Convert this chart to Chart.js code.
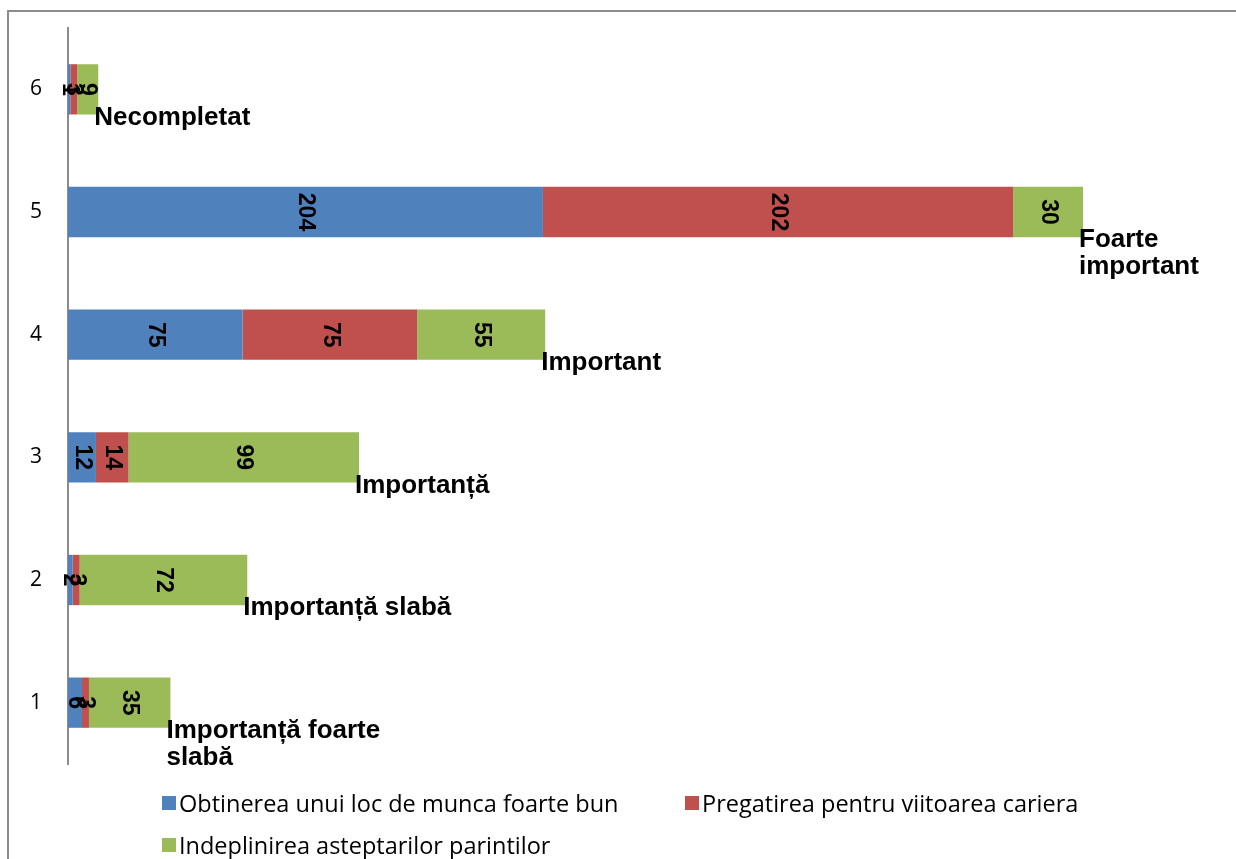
<!DOCTYPE html>
<html>
<head>
<meta charset="utf-8">
<script src="https://cdn.jsdelivr.net/npm/chart.js@4.4.1/dist/chart.umd.min.js"></script>
<style>
    html, body { margin: 0; padding: 0; background: #fff; overflow: hidden; }
    #wrap { position: relative; width: 1236px; height: 859px; }
    #frame {
        position: absolute; left: 7px; top: 10px; width: 1400px; height: 1000px;
        border-left: 2px solid #8c8c8c; border-top: 2px solid #8c8c8c;
        pointer-events: none;
    }
    #legend {
        position: absolute; left: 162px; top: 782px;
        display: grid; grid-template-columns: 523px auto; grid-auto-rows: 42px;
        font-family: 'Open Sans', sans-serif; font-size: 23.5px; color: #000;
    }
    .item { display: flex; align-items: center; white-space: nowrap; }
    .box { width: 14px; height: 14px; margin-right: 3px; flex: none; }
</style>
</head>
<body>
<div id="wrap">
    <canvas id="chart" width="1236" height="859"></canvas>
    <div id="frame"></div>
    <div id="legend"></div>
</div>
<script>
const categories = ['1', '2', '3', '4', '5', '6'];
const categoryLabels = [
    ['Importanță foarte', 'slabă'],
    ['Importanță slabă'],
    ['Importanță'],
    ['Important'],
    ['Foarte', 'important'],
    ['Necompletat']
];
const seriesNames = [
    'Obtinerea unui loc de munca foarte bun',
    'Pregatirea pentru viitoarea cariera',
    'Indeplinirea asteptarilor parintilor'
];
const jobValues = [6, 2, 12, 75, 204, 1];
const careerValues = [3, 3, 14, 75, 202, 3];
const parentsValues = [35, 72, 99, 55, 30, 9];
const seriesColors = ['#4F81BD', '#C0504D', '#9BBB59'];

// value labels inside each segment, rotated clockwise
const valueLabels = {
    id: 'valueLabels',
    afterDatasetsDraw(chart) {
        const ctx = chart.ctx;
        ctx.save();
        ctx.font = 'bold 23px "Liberation Sans", Arial, sans-serif';
        ctx.fillStyle = '#000';
        ctx.textAlign = 'center';
        ctx.textBaseline = 'middle';
        chart.data.datasets.forEach((ds, di) => {
            chart.getDatasetMeta(di).data.forEach((bar, i) => {
                const c = bar.getCenterPoint();
                ctx.save();
                ctx.translate(c.x, c.y);
                ctx.rotate(Math.PI / 2);
                ctx.fillText(String(ds.data[i]), 0, 0);
                ctx.restore();
            });
        });
        ctx.restore();
    }
};

// category names next to the end of each stacked bar
const categoryNames = {
    id: 'categoryNames',
    afterDatasetsDraw(chart) {
        const ctx = chart.ctx;
        const last = chart.getDatasetMeta(chart.data.datasets.length - 1);
        ctx.save();
        ctx.font = 'bold 26px "Liberation Sans", Arial, sans-serif';
        ctx.fillStyle = '#000';
        ctx.textAlign = 'left';
        ctx.textBaseline = 'middle';
        last.data.forEach((bar, i) => {
            const bottom = bar.y + bar.height / 2;
            categoryLabels[i].forEach((line, li) => {
                ctx.fillText(line, bar.x - 4, bottom + 3 + li * 27);
            });
        });
        ctx.restore();
    }
};

const chart = new Chart(document.getElementById('chart').getContext('2d'), {
    type: 'bar',
    data: {
        labels: categories,
        datasets: [
            { label: seriesNames[0], data: jobValues, backgroundColor: seriesColors[0] },
            { label: seriesNames[1], data: careerValues, backgroundColor: seriesColors[1] },
            { label: seriesNames[2], data: parentsValues, backgroundColor: seriesColors[2] }
        ]
    },
    options: {
        indexAxis: 'y',
        responsive: false,
        animation: false,
        layout: { padding: { top: 28, bottom: 95, left: 0, right: 4 } },
        datasets: {
            bar: { categoryPercentage: 1, barPercentage: 0.41, borderWidth: 0 }
        },
        plugins: {
            legend: { display: false },
            tooltip: { enabled: false }
        },
        scales: {
            x: {
                stacked: true,
                min: 0,
                max: 500,
                display: false
            },
            y: {
                stacked: true,
                reverse: true,
                grid: { display: false, drawTicks: false },
                border: { display: true, color: '#8c8c8c', width: 2 },
                ticks: {
                    color: '#000',
                    padding: 26,
                    font: { family: "'Open Sans', sans-serif", size: 21 }
                },
                afterFit(scale) {
                    scale.width = 68;
                    scale.paddingTop = 0;
                    scale.paddingBottom = 0;
                }
            }
        }
    },
    plugins: [valueLabels, categoryNames]
});

// legend laid out like the original, built from the chart datasets
const legendEl = document.getElementById('legend');
chart.data.datasets.forEach(ds => {
    const item = document.createElement('div');
    item.className = 'item';
    const box = document.createElement('span');
    box.className = 'box';
    box.style.background = ds.backgroundColor;
    const text = document.createElement('span');
    text.textContent = ds.label;
    item.appendChild(box);
    item.appendChild(text);
    legendEl.appendChild(item);
});
</script>
</body>
</html>
